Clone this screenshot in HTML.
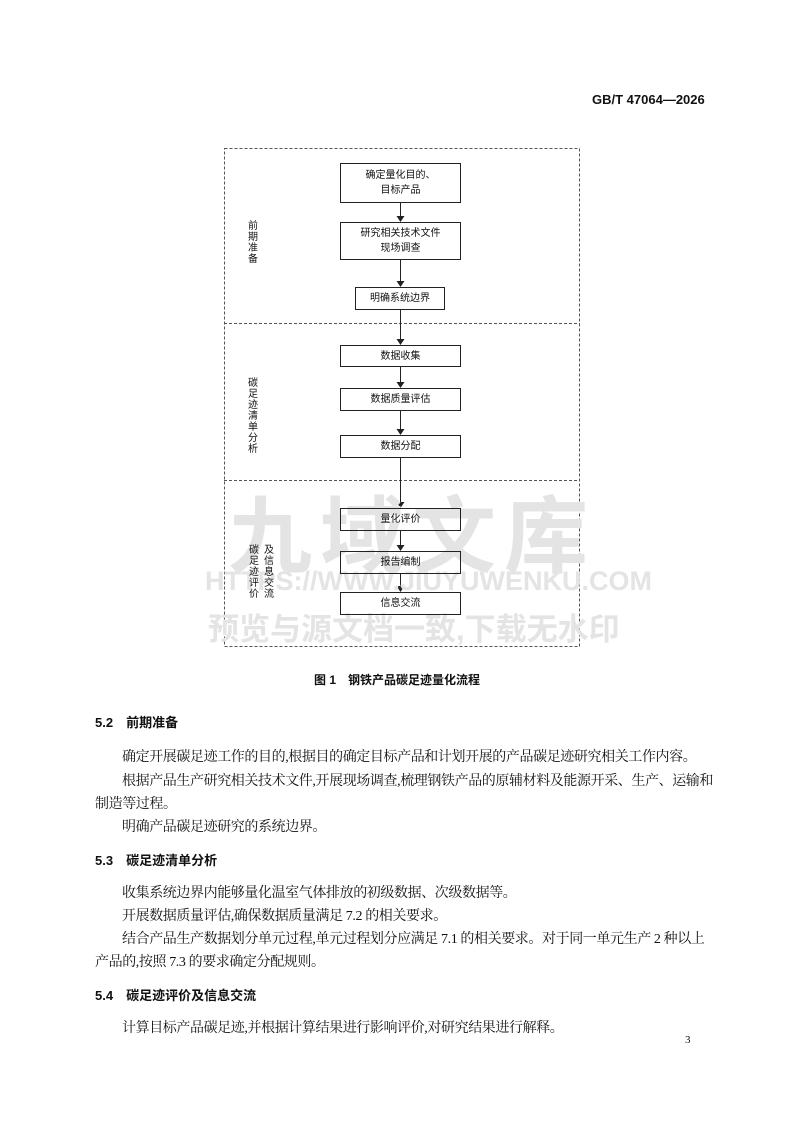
<!DOCTYPE html>
<html><head><meta charset="utf-8"><style>
body{margin:0;width:793px;height:1122px;position:relative;background:#fff;font-family:"Liberation Serif","Noto Serif CJK SC",serif;color:#111;overflow:hidden}
.a{position:absolute;white-space:nowrap}
.box{position:absolute;border:1.4px solid #222;box-sizing:border-box;display:flex;align-items:center;justify-content:center;text-align:center;font-size:10px;line-height:15px;font-family:"Liberation Sans","Noto Sans CJK SC",sans-serif;background:#fff}
.p{position:absolute;white-space:nowrap;font-size:14px;letter-spacing:-0.4px;font-family:"Liberation Serif","Noto Serif CJK SC",serif}
.h{position:absolute;white-space:nowrap;font-size:13px;font-weight:bold;font-family:"Liberation Sans","Noto Sans CJK SC",sans-serif}
.v{position:absolute;font-size:10px;line-height:11px;width:11px;font-family:"Liberation Sans","Noto Sans CJK SC",sans-serif}
.wm{position:absolute;white-space:nowrap;color:#e4e4e4;font-weight:bold;font-family:"Liberation Sans","Noto Sans CJK SC",sans-serif}
</style></head><body>
<div class="a" style="left:592px;top:92px;font-size:13px;font-weight:bold;font-family:'Liberation Sans',sans-serif">GB/T 47064—2026</div>

<svg class="a" style="left:0;top:0" width="793" height="700">
<defs><marker id="ar" markerWidth="6" markerHeight="8" refX="5" refY="4" orient="auto" markerUnits="userSpaceOnUse"><path d="M0,0 L6,4 L0,8 z" fill="#222"/></marker></defs>
<g stroke="#555" stroke-width="1" stroke-dasharray="3,2" fill="none">
<rect x="224.5" y="148.5" width="355" height="498"/>
<line x1="224" y1="323.5" x2="580" y2="323.5"/>
<line x1="224" y1="480.5" x2="580" y2="480.5"/>
</g>
<g stroke="#222" stroke-width="1" marker-end="url(#ar)">
<line x1="400.5" y1="203" x2="400.5" y2="221"/>
<line x1="400.5" y1="260" x2="400.5" y2="286"/>
<line x1="400.5" y1="310" x2="400.5" y2="344"/>
<line x1="400.5" y1="367" x2="400.5" y2="387"/>
<line x1="400.5" y1="411" x2="400.5" y2="434"/>
<line x1="400.5" y1="458" x2="400.5" y2="507"/>
<line x1="400.5" y1="531" x2="400.5" y2="550"/>
<line x1="400.5" y1="574" x2="400.5" y2="591"/>
</g>
</svg>

<div class="wm" style="left:228px;top:470px;font-size:84px;letter-spacing:8px">九域文库</div>
<div class="wm" style="left:205px;top:566px;font-size:27px">HTTPS://WWW.JIUYUWENKU.COM</div>
<div class="wm" style="left:208px;top:604px;font-size:31px">预览与源文档一致,下载无水印</div>

<div class="box" style="left:340px;top:163px;width:121px;height:40px">确定量化目的、<br>目标产品</div>
<div class="box" style="left:340px;top:222px;width:121px;height:38px">研究相关技术文件<br>现场调查</div>
<div class="box" style="left:355px;top:287px;width:90px;height:23px">明确系统边界</div>
<div class="box" style="left:340px;top:345px;width:121px;height:22px">数据收集</div>
<div class="box" style="left:340px;top:388px;width:121px;height:23px">数据质量评估</div>
<div class="box" style="left:340px;top:435px;width:121px;height:23px">数据分配</div>
<div class="box" style="left:340px;top:508px;width:121px;height:23px;background:transparent">量化评价</div>
<div class="box" style="left:340px;top:551px;width:121px;height:23px;background:transparent">报告编制</div>
<div class="box" style="left:340px;top:592px;width:121px;height:23px;background:transparent">信息交流</div>

<div class="v" style="left:248px;top:221px">前期准备</div>
<div class="v" style="left:248px;top:378px">碳足迹清单分析</div>
<div class="v" style="left:249px;top:545px">碳足迹评价</div>
<div class="v" style="left:264px;top:545px">及信息交流</div>

<div class="h" style="left:314px;top:671px;font-size:12px">图 1　钢铁产品碳足迹量化流程</div>

<div class="h" style="left:95px;top:712px">5.2　前期准备</div>
<div class="p" style="left:122px;top:746px">确定开展碳足迹工作的目的,根据目的确定目标产品和计划开展的产品碳足迹研究相关工作内容。</div>
<div class="p" style="left:122px;top:770px">根据产品生产研究相关技术文件,开展现场调查,梳理钢铁产品的原辅材料及能源开采、生产、运输和</div>
<div class="p" style="left:95px;top:793px">制造等过程。</div>
<div class="p" style="left:122px;top:816px">明确产品碳足迹研究的系统边界。</div>

<div class="h" style="left:95px;top:850px">5.3　碳足迹清单分析</div>
<div class="p" style="left:122px;top:882px">收集系统边界内能够量化温室气体排放的初级数据、次级数据等。</div>
<div class="p" style="left:122px;top:905px">开展数据质量评估,确保数据质量满足 7.2 的相关要求。</div>
<div class="p" style="left:122px;top:928px">结合产品生产数据划分单元过程,单元过程划分应满足 7.1 的相关要求。对于同一单元生产 2 种以上</div>
<div class="p" style="left:95px;top:951px">产品的,按照 7.3 的要求确定分配规则。</div>

<div class="h" style="left:95px;top:985px">5.4　碳足迹评价及信息交流</div>
<div class="p" style="left:122px;top:1017px">计算目标产品碳足迹,并根据计算结果进行影响评价,对研究结果进行解释。</div>

<div class="a" style="left:685px;top:1034px;font-size:11px">3</div>
</body></html>
